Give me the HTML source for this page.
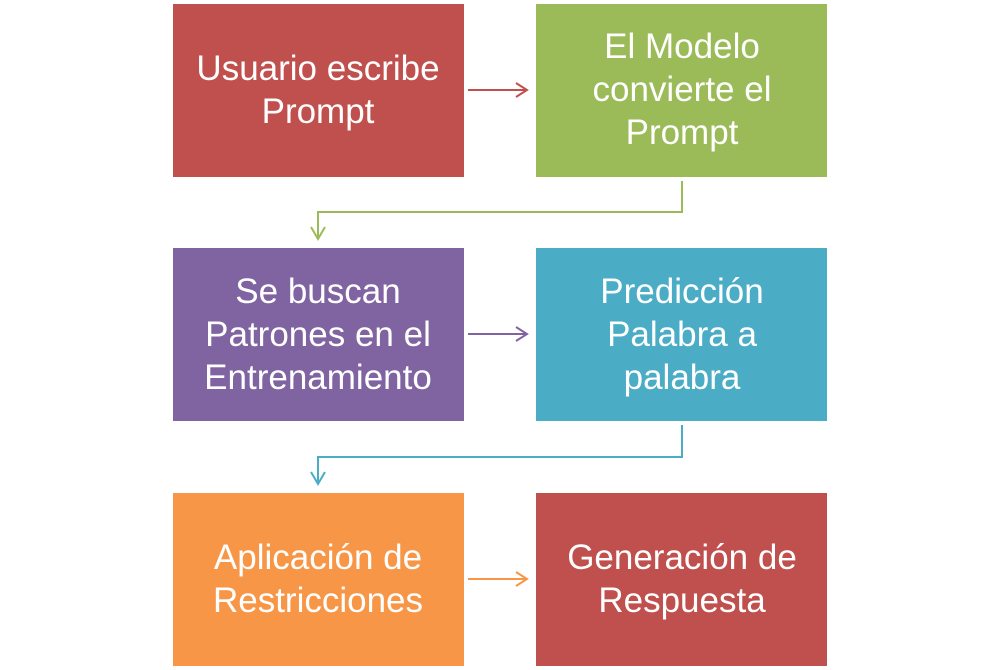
<!DOCTYPE html>
<html><head><style>
html,body{margin:0;padding:0;background:#fff;width:1000px;height:670px;overflow:hidden}
text{font-family:"Liberation Sans",sans-serif;font-size:35px;fill:#fff;text-anchor:middle}
</style></head><body>
<svg width="1000" height="670" viewBox="0 0 1000 670" xmlns="http://www.w3.org/2000/svg">
<rect x="173" y="4" width="291" height="173" fill="#C0504D"/>
<rect x="536" y="4" width="291" height="173" fill="#9BBB59"/>
<rect x="173" y="248" width="291" height="173" fill="#8064A2"/>
<rect x="536" y="248" width="291" height="173" fill="#4BACC6"/>
<rect x="173" y="493" width="291" height="173" fill="#F79646"/>
<rect x="536" y="493" width="291" height="173" fill="#C0504D"/>
<g fill="none" stroke-width="2">
<path d="M468 90H527M516 83l11 7-11 7" stroke="#C0504D"/>
<path d="M682 181V212H318V239M311 227l7 12 7-12" stroke="#9BBB59"/>
<path d="M468 334H527M516 327l11 7-11 7" stroke="#8064A2"/>
<path d="M682 425V457H318V484M311 472l7 12 7-12" stroke="#4BACC6"/>
<path d="M468 579H527M516 572l11 7-11 7" stroke="#F79646"/>
</g>
<text x="318" y="80">Usuario escribe</text>
<text x="318" y="123">Prompt</text>
<text x="682" y="58">El Modelo</text>
<text x="682" y="101">convierte el</text>
<text x="682" y="144">Prompt</text>
<text x="318" y="303">Se buscan</text>
<text x="318" y="346">Patrones en el</text>
<text x="318" y="389">Entrenamiento</text>
<text x="682" y="303">Predicción</text>
<text x="682" y="346">Palabra a</text>
<text x="682" y="389">palabra</text>
<text x="318" y="569">Aplicación de</text>
<text x="318" y="612">Restricciones</text>
<text x="682" y="569">Generación de</text>
<text x="682" y="612">Respuesta</text>
</svg>
</body></html>
